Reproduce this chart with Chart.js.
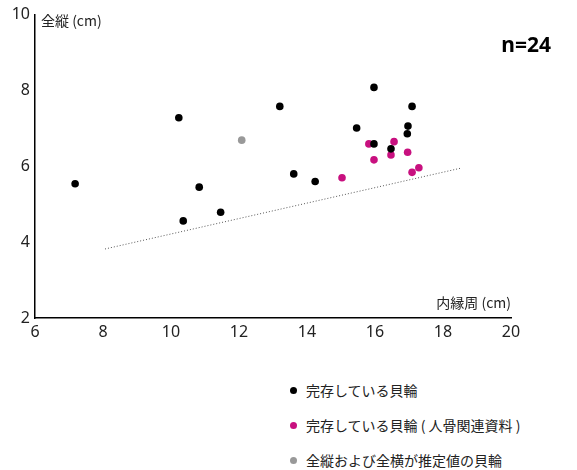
<!DOCTYPE html>
<html>
<head>
<meta charset="utf-8">
<script src="https://cdn.jsdelivr.net/npm/chart.js@4"></script>
<style>
  body { margin: 0; background: #fff; font-family: "Noto Sans CJK JP", "Noto Sans", sans-serif; }
  #wrap { position: relative; width: 577px; height: 470px; }
  #graf { position: absolute; left: 0; top: 0; }
  .leg { position: absolute; left: 290px; font-size: 14px; color: #222; line-height: 20px; }
  .leg span { display: inline-block; width: 7px; height: 7px; border-radius: 50%; margin-right: 9px; vertical-align: 2px; }
</style>
</head>
<body>
<div id="wrap">
  <canvas id="graf" width="577" height="350"></canvas>
  <div class="leg" style="top:380px"><span style="background:#000"></span>完存している貝輪</div>
  <div class="leg" style="top:415px"><span style="background:#c8107f"></span>完存している貝輪 ( 人骨関連資料 )</div>
  <div class="leg" style="top:450px"><span style="background:#999"></span>全縦および全横が推定値の貝輪</div>
</div>
<script>
// eixos
const ticksX = [6, 8, 10, 12, 14, 16, 18, 20];
const ticksY = [2, 4, 6, 8, 10];

// 完存している貝輪 (内縁周, 全縦)
const completoX = [7.18, 10.23, 10.36, 10.83, 11.46, 13.20, 13.61, 14.24, 15.46, 15.97, 15.97, 16.47, 16.95, 16.97, 17.09];
const completoY = [5.54, 7.28, 4.56, 5.45, 4.79, 7.58, 5.80, 5.60, 7.01, 8.08, 6.59, 6.46, 6.86, 7.06, 7.58];

// 人骨関連資料
const ossoX = [15.03, 15.82, 15.97, 16.47, 16.56, 16.96, 17.09, 17.29];
const ossoY = [5.70, 6.59, 6.17, 6.30, 6.65, 6.37, 5.84, 5.96];

// 推定値
const estimX = [12.08];
const estimY = [6.69];

// linha pontilhada
const linhaX = [8.06, 18.52];
const linhaY = [3.82, 5.95];

const juntar = (xs, ys) => xs.map((x, i) => ({ x: x, y: ys[i] }));

const textos = {
  id: "textos",
  afterDraw(chart) {
    const ctx = chart.ctx;
    const area = chart.chartArea;
    ctx.save();
    ctx.fillStyle = "#222";
    ctx.font = '14px "Noto Sans CJK JP", "Noto Sans", sans-serif';
    ctx.textBaseline = "middle";
    ctx.textAlign = "left";
    ctx.fillText("全縦 (cm)", area.left + 6, 21);
    ctx.textAlign = "right";
    ctx.fillText("内縁周 (cm)", area.right, 303);
    ctx.fillStyle = "#000";
    ctx.font = 'bold 21px "Noto Sans", sans-serif';
    ctx.fillText("n=24", 551, 46);
    ctx.restore();
  }
};

new Chart(document.getElementById("graf"), {
  type: "scatter",
  data: {
    datasets: [
      {
        label: "線",
        type: "line",
        data: juntar(linhaX, linhaY),
        borderColor: "#555",
        borderWidth: 1,
        borderDash: [1, 2],
        pointRadius: 0,
        fill: false,
      },
      {
        label: "完存している貝輪",
        data: juntar(completoX, completoY),
        backgroundColor: "#000",
        borderWidth: 0,
        pointRadius: 3.8,
      },
      {
        label: "完存している貝輪 ( 人骨関連資料 )",
        data: juntar(ossoX, ossoY),
        backgroundColor: "#c8107f",
        borderWidth: 0,
        pointRadius: 3.8,
      },
      {
        label: "全縦および全横が推定値の貝輪",
        data: juntar(estimX, estimY),
        backgroundColor: "#999",
        borderWidth: 0,
        pointRadius: 3.8,
      },
    ],
  },
  options: {
    responsive: false,
    animation: false,
    layout: { padding: { top: 14, right: 66, left: 0, bottom: 0 } },
    plugins: { legend: { display: false }, tooltip: { enabled: false } },
    scales: {
      x: {
        type: "linear",
        min: ticksX[0],
        max: ticksX[ticksX.length - 1],
        afterBuildTicks: (s) => { s.ticks = ticksX.map((v) => ({ value: v })); },
        afterFit: (s) => { s.height = 32; },
        grid: { display: false, drawTicks: false },
        border: { display: true, color: "#000", width: 1.5 },
        ticks: { color: "#222", padding: 5, maxRotation: 0, font: { size: 16, family: '"Noto Sans", sans-serif' } },
      },
      y: {
        type: "linear",
        min: ticksY[0],
        max: ticksY[ticksY.length - 1],
        afterBuildTicks: (s) => { s.ticks = ticksY.map((v) => ({ value: v })); },
        afterFit: (s) => { s.width = 35; },
        grid: { display: false, drawTicks: false },
        border: { display: true, color: "#000", width: 1.5 },
        ticks: { color: "#222", padding: 5, font: { size: 16, family: '"Noto Sans", sans-serif' } },
      },
    },
  },
  plugins: [textos],
});
</script>
</body>
</html>
